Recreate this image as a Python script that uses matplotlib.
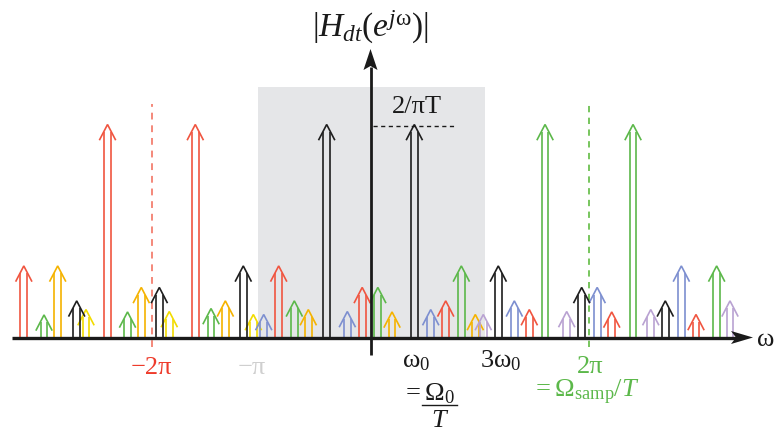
import matplotlib
matplotlib.use("Agg")
import matplotlib.pyplot as plt
from matplotlib.patches import Polygon, Rectangle

plt.rcParams['font.family'] = ['Liberation Serif', 'DejaVu Serif']
plt.rcParams['mathtext.fontset'] = 'custom'
plt.rcParams['mathtext.rm'] = 'Liberation Serif'
plt.rcParams['mathtext.it'] = 'Liberation Serif:italic'
plt.rcParams['mathtext.bf'] = 'Liberation Serif:bold'

# ---- data: impulse positions (units of pi) and heights (units of 2/(pi T)) ----
black_pos = [-2.688, -1.932, -1.164, -0.401, 0.401, 1.169, 1.932, 2.697]
black_h   = [0.172, 0.235, 0.336, 1.0, 1.0, 0.336, 0.235, 0.172]

red_pos = [-3.172, -2.406, -1.603, -0.840, -0.076, 0.688, 1.453, 2.207, 2.978]
red_h   = [0.336, 1.0, 1.0, 0.336, 0.235, 0.172, 0.131, 0.120, 0.108]

gold_pos = [-2.862, -2.097, -1.328, -0.569, 0.197, 0.959]
gold_h   = [0.336, 0.235, 0.172, 0.131, 0.120, 0.108]

yellow_pos = [-2.603, -1.841, -1.072]
yellow_h   = [0.131, 0.122, 0.108]

green_pos = [-2.987, -2.223, -1.459, -0.697, 0.067, 0.831, 1.597, 2.402, 3.167]
green_h   = [0.106, 0.120, 0.136, 0.172, 0.235, 0.336, 1.0, 1.0, 0.336]

blue_pos = [-0.977, -0.212, 0.551, 1.316, 2.074, 2.844]
blue_h   = [0.108, 0.122, 0.131, 0.172, 0.235, 0.336]

purple_pos = [1.032, 1.795, 2.564, 3.289]
purple_h   = [0.108, 0.122, 0.131, 0.172]

series = [
    (gold_pos, gold_h, "#f5b300"),
    (yellow_pos, yellow_h, "#f2dc00"),
    (purple_pos, purple_h, "#b9a2d2"),
    (blue_pos, blue_h, "#7d8fd0"),
    (green_pos, green_h, "#5cb84a"),
    (red_pos, red_h, "#f05540"),
    (black_pos, black_h, "#1e1e1e"),
]

# ---- figure ----
W, H = 780, 431
fig = plt.figure(figsize=(W / 100, H / 100), dpi=100)
ax = fig.add_axes([0, 0, 1, 1])
ax.axis('off')

X0 = 370.5      # pixel of omega = 0
PPI = 109.3     # pixels per pi
Y0 = 338.5      # pixel row of baseline
PU = 213.0      # pixels per height unit
ax.set_xlim(-X0 / PPI, (W - X0) / PPI)
ax.set_ylim(-(H - Y0) / PU, Y0 / PU)

px = 1.0 / PPI
py = 1.0 / PU

# grey passband box (-pi .. ~pi)
ax.add_patch(Rectangle((-1.026, 0), 1.048 + 1.026, 1.176, facecolor="#e5e6e8",
                       edgecolor='none', zorder=0))

# dashed lines at -2pi and 2pi
ax.plot([-2.0, -2.0], [-0.045, 1.096], color="#f4887a", lw=1.4,
        dashes=(3.5, 3), zorder=1)
ax.plot([2.0, 2.0], [-0.045, 1.096], color="#6cc050", lw=1.3,
        dashes=(3.5, 3), zorder=1)

# impulses
dx = 3.4 * px
hw = 7.8 * px
hh = 15.0 * py
stop = 7.5 * py
LW = 1.2
for pos, hts, col in series:
    for x, h in zip(pos, hts):
        ax.plot([x - dx, x - dx], [0, h - stop], color=col, lw=LW, zorder=3,
                solid_capstyle='butt')
        ax.plot([x + dx, x + dx], [0, h - stop], color=col, lw=LW, zorder=3,
                solid_capstyle='butt')
        ax.plot([x - hw, x, x + hw], [h - hh, h, h - hh], color=col, lw=LW,
                zorder=3, solid_joinstyle='miter')

# horizontal axis with arrow
ax.plot([12 * px - X0 * px, (736 - X0) * px], [0, 0], color="#1a1a1a", lw=2.4,
        zorder=4, solid_capstyle='butt')
ax.add_patch(Polygon([((753 - X0) * px, 0), ((731 - X0) * px, 6.5 * py),
                      ((736 - X0) * px, 0), ((731 - X0) * px, -6.5 * py)],
                     closed=True, facecolor="#1a1a1a", edgecolor='none', zorder=4))

# vertical axis with arrow
ax.plot([0, 0], [-0.082, (Y0 - 68) * py], color="#1a1a1a", lw=2.0, zorder=4,
        solid_capstyle='butt')
ax.add_patch(Polygon([(0, (Y0 - 50) * py), (7 * px, (Y0 - 71) * py),
                      (0, (Y0 - 67) * py), (-7 * px, (Y0 - 71) * py)],
                     closed=True, facecolor="#1a1a1a", edgecolor='none', zorder=4))

# 2/piT level
ax.plot([0.023, 0.764], [0.993, 0.993], color="#1a1a1a", lw=1.0, dashes=(3, 2.5),
        zorder=4)
ax.text(0.428, 1.087, "2/πT", fontsize=19, ha='center', va='center', color="#1a1a1a")

# title
ax.text(0.0, 1.458, r"$|H_{dt}(e^{j\mathrm{ω}})|$", fontsize=24, ha='center',
        va='center', color="#1a1a1a")

# tick labels
ax.text(-2.008, -0.167, "−2π", fontsize=19, ha='center', va='baseline', color="#ee3b2b")
ax.text(-1.089, -0.167, "−π", fontsize=19, ha='center', va='baseline', color="#cfcfcf")
ax.text(0.416, -0.134, r"$\mathrm{ω}_0$", fontsize=19, ha='center', va='baseline',
        color="#1a1a1a")
ax.text(1.194, -0.138, r"$3\mathrm{ω}_0$", fontsize=19, ha='center', va='baseline',
        color="#1a1a1a")
ax.text(2.008, -0.162, "2π", fontsize=19, ha='center', va='baseline', color="#5cb84a")
ax.text(1.477, -0.275, r"$=\mathrm{Ω}_{\mathrm{samp}}/T$", fontsize=19, ha='left',
        va='baseline', color="#5cb84a")
ax.text(0.289, -0.289, r"$=\mathrm{Ω}_0$", fontsize=19, ha='left', va='baseline',
        color="#1a1a1a")
ax.plot([0.471, 0.791], [-0.317, -0.317], color="#1a1a1a", lw=1.0)
ax.text(0.636, -0.415, r"$T$", fontsize=19, ha='center', va='baseline', color="#1a1a1a")
ax.text(3.618, -0.007, "ω", fontsize=19, ha='center', va='center', color="#1a1a1a")

fig.savefig("out.png", dpi=100)
